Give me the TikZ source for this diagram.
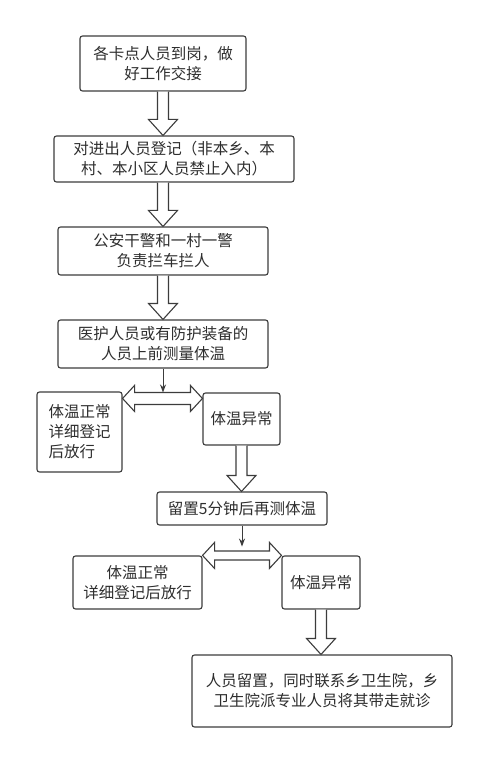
\documentclass[tikz,border=0pt]{standalone}
\usepackage{fontspec}
\newfontfamily\cjk{Noto Sans CJK SC}
\usetikzlibrary{arrows.meta,calc}

\definecolor{linegray}{HTML}{3C3C3C}
\definecolor{textgray}{HTML}{2E2E2E}

\tikzset{
  box/.style={draw=linegray, line width=1.1pt, rounded corners=2.5pt, fill=white,
    text=textgray, font=\cjk\fontsize{15.5}{20}\selectfont, align=center, inner sep=0pt},
  hollow/.style={draw=linegray, line width=1.1pt, fill=white, line join=miter},
  pointer/.style={draw=linegray, line width=1pt, -{Stealth[length=8pt,width=6pt]}}
}

% big open arrow pointing down: #1 start, #2 target
\newcommand{\hollowdown}[2]{%
  \draw[hollow] let \p1=(#1), \p2=(#2) in
    (\x1-5.5,\y1) -- (\x1-5.5,\y2+16) -- (\x1-14.5,\y2+16) -- (\x1,\y2)
    -- (\x1+14.5,\y2+16) -- (\x1+5.5,\y2+16) -- (\x1+5.5,\y1);}

% open arrow with two heads: #1 left, #2 right, #3 height, #4 half shaft
\newcommand{\hollowboth}[4]{%
  \draw[hollow] let \p1=(#1), \p2=(#2), \p3=(#3) in
    (\x1,\y3) -- (\x1+12,\y3+13) -- (\x1+12,\y3+#4) -- (\x2-12,\y3+#4)
    -- (\x2-12,\y3+13) -- (\x2,\y3) -- (\x2-12,\y3-13) -- (\x2-12,\y3-#4)
    -- (\x1+12,\y3-#4) -- (\x1+12,\y3-13) -- cycle;}

\begin{document}
\begin{tikzpicture}[x=1pt,y=-1pt]
    \useasboundingbox (0,0) rectangle (500,775);

    \node[box, minimum width=166pt, minimum height=55pt] (b1) at (163,63.5) {各卡点人员到岗，做\\好工作交接};
    \node[box, minimum width=240pt, minimum height=46pt] (b2) at (174,159) {对进出人员登记（非本乡、本\\村、本小区人员禁止入内）};
    \node[box, minimum width=210pt, minimum height=48pt] (b3) at (163,251) {公安干警和一村一警\\负责拦车拦人};
    \node[box, minimum width=210pt, minimum height=48pt] (b4) at (163,344) {医护人员或有防护装备的\\人员上前测量体温};

    \node[box, align=left, minimum width=85pt, minimum height=80pt] (b5) at (79.5,432) {体温正常\\详细登记\\后放行};
    \node[box, minimum width=77pt, minimum height=52pt] (b6) at (241.5,419) {体温异常};

    \node[box, minimum width=170pt, minimum height=33pt] (b7) at (242,508.5) {留置5分钟后再测体温};

    \node[box, minimum width=129pt, minimum height=53pt] (b8) at (137.5,582.5) {体温正常\\详细登记后放行};
    \node[box, minimum width=78pt, minimum height=53pt] (b9) at (321,582.5) {体温异常};

    \node[box, minimum width=260pt, minimum height=72pt] (b10) at (322,691) {人员留置，同时联系乡卫生院，乡\\卫生院派专业人员将其带走就诊};

    \hollowdown{b1.south}{b2.north}
    \hollowdown{b2.south -| b3.north}{b3.north}
    \hollowdown{b3.south}{b4.north}
    \hollowdown{b6.south}{b7.north}
    \hollowdown{b9.south}{b10.north}

    \hollowboth{b5.east}{b6.west}{$(b6.north)+(0,6)$}{6}
    \hollowboth{b8.east}{b9.west}{b9.north}{4.5}

    \coordinate (t2) at ($(b7.south)+(0,21)$);
    \draw[pointer] (b4.south) -- (b4.south |- b6.north);
    \draw[pointer] (b7.south) -- (t2);

\end{tikzpicture}
\end{document}
